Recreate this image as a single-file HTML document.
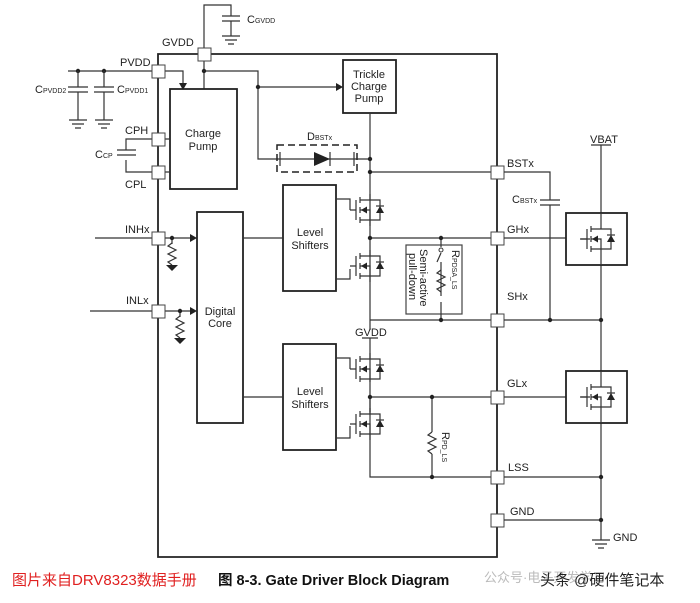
<!DOCTYPE html>
<html><head><meta charset="utf-8"><style>
body{margin:0;background:#fff;width:700px;height:603px;overflow:hidden}
svg{display:block}
text{font-family:"Liberation Sans",Arial,sans-serif;font-size:11px;fill:#222}
.l{stroke:#333;stroke-width:1.2;fill:none}
.b{stroke:#222;stroke-width:1.8;fill:none}
.p{stroke:#444;stroke-width:1;fill:#fff}
</style></head><body>
<svg width="700" height="603" viewBox="0 0 700 603" xmlns="http://www.w3.org/2000/svg">
<defs>
<symbol id="fet" overflow="visible">
 <path class="l" d="M-20 0H-14M-14 -10V10M-10 -13V-7M-10 -3V3M-10 7V13M-10 -10H0V-16M-10 10H0V16M-10 0H0V10M0 -10H10V10H0"/>
 <path d="M-9 0L-3 -3.5V3.5Z" fill="#222"/>
 <path d="M10 -4L6 3H14Z" fill="#222"/><path class="l" d="M6 -4H14"/>
</symbol>
<symbol id="gnd" overflow="visible"><path class="l" d="M-9 0H9M-6 4H6M-3 8H3"/></symbol>
<symbol id="res" overflow="visible"><path class="l" d="M0 0L-4 3L4 7L-4 11L4 15L-4 19L0 22"/></symbol>
</defs>
<path class="b" d="M158 54H497V557H158Z"/>
<path class="l" d="M204 48V5H231V16M231 21V36"/>
<path class="l" d="M222 16H240M222 21H240"/>
<use href="#gnd" x="231" y="36"/>
<text x="247" y="23">C<tspan font-size="7">GVDD</tspan></text>
<text x="162" y="46">GVDD</text>
<path class="l" d="M204 61V89M204 71H258V159H280M258 87H338"/>
<path d="M343 87L336 83V91Z" fill="#222"/>
<circle cx="204" cy="71" r="2.2" fill="#222"/><circle cx="258" cy="87" r="2.2" fill="#222"/>
<path class="l" d="M68 71H183V85"/><path d="M183 90L179 83H187Z" fill="#222"/>
<circle cx="78" cy="71" r="2.2" fill="#222"/><circle cx="104" cy="71" r="2.2" fill="#222"/>
<path class="l" d="M78 71V87M78 92V120M104 71V87M104 92V120M68 87H88M68 92H88M94 87H114M94 92H114"/>
<use href="#gnd" x="78" y="120"/><use href="#gnd" x="104" y="120"/>
<text x="35" y="93">C<tspan font-size="7">PVDD2</tspan></text>
<text x="117" y="93">C<tspan font-size="7">PVDD1</tspan></text>
<text x="120" y="66">PVDD</text>
<rect x="170" y="89" width="67" height="100" class="b"/>
<text x="203" y="137" text-anchor="middle">Charge</text><text x="203" y="150" text-anchor="middle">Pump</text>
<path class="l" d="M158 139H126V150M126 160V172H170M158 139H170M117 150H136M117 155H136"/>
<text x="95" y="158">C<tspan font-size="7">CP</tspan></text>
<text x="125" y="134">CPH</text><text x="125" y="188">CPL</text>
<rect x="343" y="60" width="53" height="53" class="b"/>
<text x="369" y="78" text-anchor="middle">Trickle</text><text x="369" y="90" text-anchor="middle">Charge</text><text x="369" y="102" text-anchor="middle">Pump</text>
<path class="l" d="M370 113V330M280 159H370M370 172H497"/>
<rect x="277" y="145" width="80" height="27" fill="none" stroke="#222" stroke-width="1.5" stroke-dasharray="7,4"/>
<path d="M314 152V166L330 159Z" fill="#222"/><path class="l" d="M330 152V166M280 152V166M354 152V166"/>
<text x="307" y="140">D<tspan font-size="7">BSTx</tspan></text>
<circle cx="370" cy="159" r="2.2" fill="#222"/><circle cx="370" cy="172" r="2.2" fill="#222"/>
<path class="l" d="M95 238H192M172 238V244M90 311H192M180 311V317"/>
<path d="M197 238L190 234V242Z" fill="#222"/><path d="M197 311L190 307V315Z" fill="#222"/>
<circle cx="172" cy="238" r="2.2" fill="#222"/><circle cx="180" cy="311" r="2.2" fill="#222"/>
<use href="#res" x="172" y="243"/><use href="#res" x="180" y="316"/>
<path d="M166 265H178L172 271Z" fill="#222"/><path d="M174 338H186L180 344Z" fill="#222"/>
<text x="125" y="233">INHx</text><text x="126" y="304">INLx</text>
<rect x="197" y="212" width="46" height="211" class="b"/>
<text x="220" y="315" text-anchor="middle">Digital</text><text x="220" y="327" text-anchor="middle">Core</text>
<rect x="283" y="185" width="53" height="106" class="b"/>
<text x="310" y="236" text-anchor="middle">Level</text><text x="310" y="249" text-anchor="middle">Shifters</text>
<rect x="283" y="344" width="53" height="106" class="b"/>
<text x="310" y="395" text-anchor="middle">Level</text><text x="310" y="408" text-anchor="middle">Shifters</text>
<path class="l" d="M243 238H283M243 397H283"/>
<path class="l" d="M336 199H350V210M336 279H350V269"/>
<use href="#fet" x="370" y="210"/><use href="#fet" x="370" y="266"/>
<path class="l" d="M370 238H497M370 320H497"/>
<circle cx="370" cy="238" r="2.2" fill="#222"/>
<rect x="406" y="245" width="56" height="69" fill="none" stroke="#444" stroke-width="1.2"/>
<path class="l" d="M441 238V247M441 253L437 262M441 262V296M441 302V320"/>
<circle cx="441" cy="238" r="2.2" fill="#222"/><circle cx="441" cy="320" r="2.2" fill="#222"/>
<circle cx="441" cy="250" r="2" fill="#fff" stroke="#333"/>
<use href="#res" x="441" y="270"/>
<text transform="translate(452,250) rotate(90)" font-size="10">R<tspan font-size="7">PDSA_LS</tspan></text>
<text transform="translate(420,249) rotate(90)" font-size="10">Semi-active</text>
<text transform="translate(409,253) rotate(90)" font-size="10">pull-down</text>
<text x="355" y="336">GVDD</text>
<path class="l" d="M362 338H378M370 338V382M370 397V477H497"/>
<path class="l" d="M336 358H350V369M336 438H350V426"/>
<use href="#fet" x="370" y="369"/><use href="#fet" x="370" y="424"/>
<path class="l" d="M370 385V412M370 397H497"/>
<circle cx="370" cy="397" r="2.2" fill="#222"/>
<path class="l" d="M432 397V432M432 454V477"/>
<use href="#res" x="432" y="432"/>
<circle cx="432" cy="397" r="2.2" fill="#222"/><circle cx="432" cy="477" r="2.2" fill="#222"/>
<text transform="translate(442,432) rotate(90)" font-size="10">R<tspan font-size="7">PD_LS</tspan></text>
<g class="p">
<rect x="198" y="48" width="13" height="13"/><rect x="152" y="65" width="13" height="13"/>
<rect x="152" y="133" width="13" height="13"/><rect x="152" y="166" width="13" height="13"/>
<rect x="152" y="232" width="13" height="13"/><rect x="152" y="305" width="13" height="13"/>
<rect x="491" y="166" width="13" height="13"/><rect x="491" y="232" width="13" height="13"/>
<rect x="491" y="314" width="13" height="13"/><rect x="491" y="391" width="13" height="13"/>
<rect x="491" y="471" width="13" height="13"/><rect x="491" y="514" width="13" height="13"/>
</g>
<text x="507" y="167">BSTx</text><text x="507" y="233">GHx</text><text x="507" y="300">SHx</text>
<text x="507" y="387">GLx</text><text x="508" y="471">LSS</text><text x="510" y="515">GND</text>
<text x="590" y="143" font-size="10">VBAT</text>
<path class="l" d="M591 145H611M601 145V540M504 172H550V200M550 205V320M504 238H590M504 320H601M504 397H590M504 477H601M504 520H601"/>
<path class="l" d="M540 200H560M540 205H560"/>
<text x="512" y="203">C<tspan font-size="7">BSTx</tspan></text>
<circle cx="550" cy="320" r="2.2" fill="#222"/><circle cx="601" cy="320" r="2.2" fill="#222"/>
<circle cx="601" cy="477" r="2.2" fill="#222"/><circle cx="601" cy="520" r="2.2" fill="#222"/>
<rect x="566" y="213" width="61" height="52" fill="#fff" stroke="#222" stroke-width="1.8"/>
<rect x="566" y="371" width="61" height="52" fill="#fff" stroke="#222" stroke-width="1.8"/>
<use href="#fet" x="601" y="239"/><use href="#fet" x="601" y="397"/>
<path class="l" d="M601 213V223M601 255V265M601 371V381M601 413V423M580 239H590M580 397H590"/>
<use href="#gnd" x="601" y="540"/>
<text x="613" y="541">GND</text>
<text x="12" y="585" style="font-family:'Liberation Sans','Noto Sans CJK SC',sans-serif;font-size:15px;fill:#e02020">图片来自DRV8323数据手册</text>
<text x="218" y="585" style="font-family:'Liberation Sans','Noto Sans CJK SC',sans-serif;font-size:14.5px;font-weight:bold;fill:#111">图 8-3. Gate Driver Block Diagram</text>
<text x="484" y="582" style="font-family:'Liberation Sans','Noto Sans CJK SC',sans-serif;font-size:13px;fill:#bbb">公众号·电子开发学习</text>
<text x="540" y="585" style="font-family:'Liberation Sans','Noto Sans CJK SC',sans-serif;font-size:15px;fill:#222">头条 @硬件笔记本</text>
</svg>
</body></html>
